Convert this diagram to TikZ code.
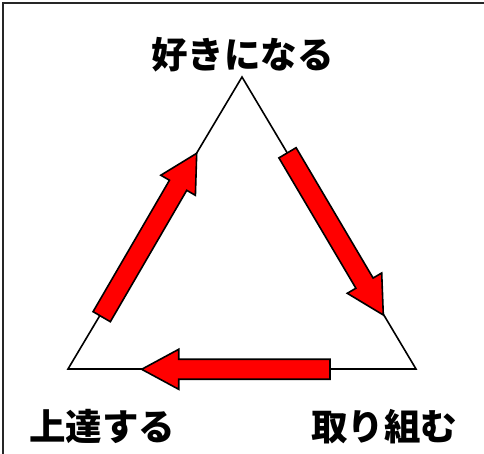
\documentclass[tikz,border=0pt]{standalone}
\usepackage{fontspec}
\newfontfamily\jp{Noto Sans CJK JP}
\usetikzlibrary{calc}
\tikzset{
  frame/.style={draw=black!85, line width=2pt},
  tri/.style={draw=black, line width=1.6pt, line join=miter},
  blockarr/.style={fill=red, draw=black, line width=1.6pt, line join=miter},
  lbl/.style={font=\jp\bfseries\fontsize{36.5pt}{40pt}\selectfont, inner sep=0pt, anchor=base}
}
\newcommand{\blockarrow}[2]{%
  \path ($(#2)!37pt!(#1)$) coordinate (H);
  \draw[blockarr] ($(#1)!10pt!90:(#2)$) -- ($(H)!10pt!90:(#2)$) -- ($(H)!20pt!90:(#2)$)
    -- (#2) -- ($(H)!20pt!-90:(#2)$) -- ($(H)!10pt!-90:(#2)$) -- ($(#1)!10pt!-90:(#2)$) -- cycle;
}
\begin{document}
\begin{tikzpicture}[x=1pt,y=1pt]
\useasboundingbox (0,0) rectangle (484,454);
\fill[white] (0,0) rectangle (484,454);
\draw[frame] (3,0) -- (3,451) -- (484,451);
% triangle vertices
\coordinate (T) at (242,377);
\coordinate (L) at (68,85);
\coordinate (R) at (416,85);
\draw[tri] (T) -- (L) -- (R) -- cycle;
% arrow ends
\coordinate (a1) at (101.7,137.3);
\coordinate (b1) at (196.7,300.7);
\coordinate (a2) at (287.5,301.2);
\coordinate (b2) at (383.3,139);
\coordinate (a3) at (330,84.7);
\coordinate (b3) at (141.7,84.7);
\blockarrow{a1}{b1}
\blockarrow{a2}{b2}
\blockarrow{a3}{b3}
% labels
\node[lbl] (top) at (242.5,385.5) {好きになる};
\node[lbl] (bl) at (102,13) {上達する};
\node[lbl] (br) at (384,13) {取り組む};
\end{tikzpicture}
\end{document}
